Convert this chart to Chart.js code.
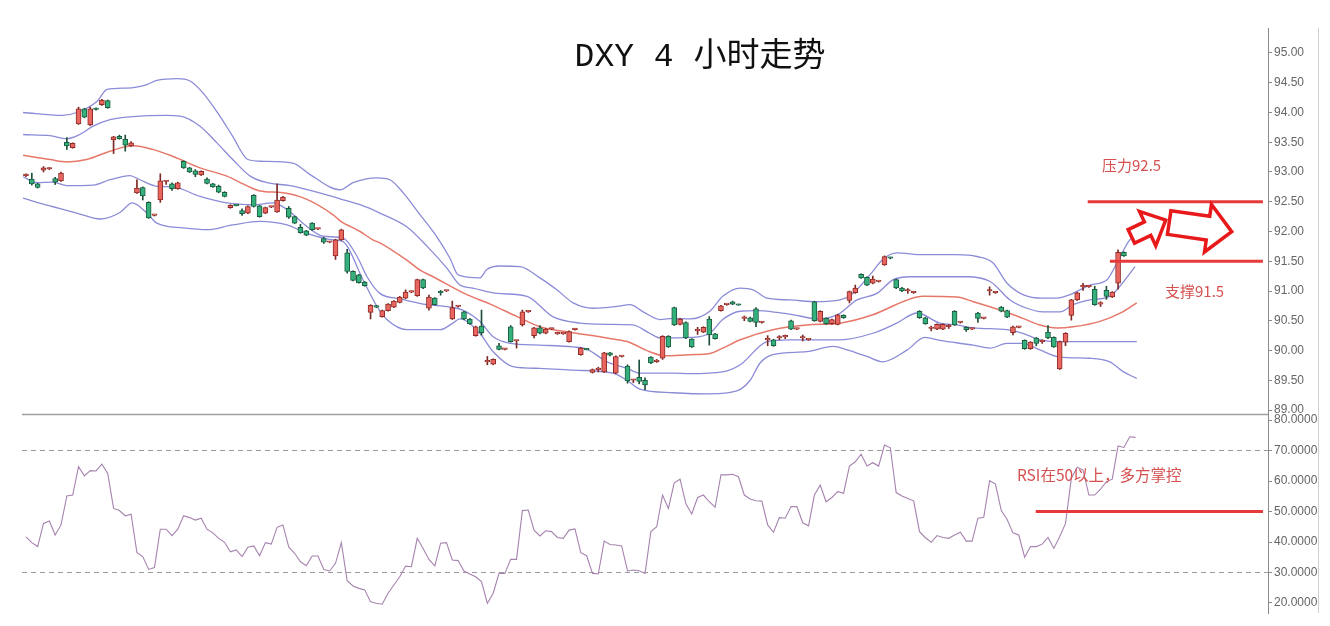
<!DOCTYPE html>
<html><head><meta charset="utf-8">
<script src="https://cdn.jsdelivr.net/npm/chart.js@4.4.1/dist/chart.umd.min.js"></script>
<style>
html,body{margin:0;padding:0;background:#fff;}
#wrap{position:relative;width:1330px;height:626px;overflow:hidden;background:#fff;}
canvas{display:block;}
.t{position:absolute;white-space:nowrap;line-height:1;}
#title{left:450px;width:500px;top:41px;text-align:center;font-family:'Liberation Mono','Noto Sans CJK SC',monospace;font-size:33px;color:#111;}
.ann{font-family:'Noto Sans CJK SC','Noto Sans',sans-serif;font-size:15px;color:#d65050;}
</style></head>
<body><div id="wrap">
<canvas id="c" width="1330" height="626"></canvas>
<div class="t" id="title">DXY 4 小时走势</div>
<div class="t ann" style="left:1102px;top:157px;">压力92.5</div>
<div class="t ann" style="left:1165px;top:283px;">支撑91.5</div>
<div class="t ann" style="left:1017px;top:467px;font-size:15.5px;">RSI在50以上，多方掌控</div>
</div>
<script>
// ---- candle data (index 0..188) ----
const open = [92.94,92.88,92.80,93.03,93.05,92.89,92.85,93.50,93.41,93.81,
94.06,93.79,94.06,94.13,94.20,93.54,93.60,93.55,93.44,92.65,
92.74,92.49,92.27,92.53,92.84,92.80,92.72,93.18,93.07,93.02,
92.95,92.88,92.80,92.76,92.66,92.40,92.44,92.35,92.31,92.61,
92.43,92.31,92.41,92.33,92.52,92.39,92.25,92.07,92.01,92.14,
92.04,91.88,91.82,91.59,91.86,91.64,91.33,91.27,91.15,90.64,
90.74,90.57,90.67,90.73,90.81,90.88,90.98,90.92,91.19,90.71,
90.88,90.98,91.00,90.53,90.74,90.65,90.53,90.25,90.41,89.81,
89.77,90.08,90.02,90.40,90.16,90.43,90.65,90.25,90.38,90.29,
90.36,90.28,90.28,90.15,90.35,89.93,90.02,89.63,89.68,89.64,
89.96,89.62,89.90,89.74,89.50,89.55,89.50,89.89,89.81,89.87,
90.24,90.72,90.44,90.47,90.19,90.33,90.31,90.53,90.28,90.67,
90.77,90.82,90.77,90.54,90.55,90.70,90.47,90.18,90.18,90.21,
90.23,90.50,90.36,90.21,90.18,90.82,90.49,90.54,90.45,90.44,
90.59,90.84,90.97,91.28,91.23,91.13,91.16,91.44,91.56,91.19,
91.05,91.00,90.97,90.66,90.55,90.37,90.36,90.36,90.40,90.66,
90.47,90.39,90.36,90.63,90.54,91.00,90.97,90.73,90.67,90.30,
90.39,90.17,90.03,90.21,90.15,90.31,90.22,89.69,90.14,90.59,
90.85,91.07,91.07,91.03,90.78,91.01,90.90,91.13,91.65];
const high = [92.97,92.98,92.81,93.09,93.07,92.91,93.00,93.58,93.49,94.09,
94.07,94.09,94.08,94.22,94.21,93.60,93.62,93.62,93.51,92.87,
92.75,92.50,92.28,92.97,92.85,92.82,92.83,93.19,93.08,93.04,
93.02,92.90,92.81,92.78,92.67,92.45,92.45,92.38,92.43,92.62,
92.44,92.41,92.42,92.80,92.59,92.42,92.26,92.12,92.02,92.15,
92.05,91.90,91.83,91.87,92.04,91.70,91.34,91.28,91.16,90.77,
90.76,90.68,90.79,90.84,90.91,91.02,91.00,91.20,91.20,90.93,
90.89,91.01,91.01,90.83,90.75,90.66,90.54,90.41,90.68,89.90,
89.86,90.12,90.03,90.42,90.17,90.68,90.66,90.39,90.42,90.37,
90.37,90.31,90.29,90.33,90.37,90.05,90.03,89.69,89.72,89.97,
89.97,89.91,89.91,89.76,89.51,89.84,89.54,89.90,89.85,90.25,
90.25,90.73,90.54,90.48,90.20,90.39,90.40,90.57,90.29,90.76,
90.78,90.83,90.78,90.58,90.56,90.72,90.48,90.25,90.19,90.25,
90.26,90.51,90.37,90.26,90.19,90.83,90.67,90.55,90.53,90.61,
90.60,91.00,91.10,91.29,91.24,91.25,91.17,91.59,91.57,91.20,
91.06,91.04,90.98,90.67,90.56,90.41,90.45,90.45,90.44,90.67,
90.48,90.40,90.37,90.64,90.55,91.07,90.98,90.74,90.68,90.41,
90.40,90.18,90.15,90.22,90.18,90.42,90.23,90.16,90.30,90.86,
90.98,91.13,91.08,91.08,90.82,91.08,90.99,91.69,91.66];
const low = [92.92,92.78,92.73,93.00,93.04,92.79,92.84,93.38,93.40,93.80,
93.91,93.78,94.04,94.12,94.07,93.31,93.55,93.35,93.43,92.64,
92.53,92.22,92.26,92.49,92.79,92.69,92.71,93.06,92.99,92.92,
92.94,92.80,92.74,92.65,92.58,92.39,92.43,92.27,92.30,92.41,
92.24,92.30,92.40,92.32,92.51,92.22,92.13,91.97,91.93,92.02,
92.03,91.80,91.81,91.53,91.85,91.30,91.17,91.13,91.08,90.53,
90.72,90.56,90.66,90.72,90.80,90.87,90.97,90.91,91.04,90.68,
90.76,90.93,90.99,90.52,90.73,90.52,90.44,90.24,90.26,89.76,
89.76,90.01,90.01,90.14,90.04,90.41,90.64,90.21,90.28,90.28,
90.35,90.27,90.27,90.14,90.34,89.92,90.01,89.62,89.64,89.63,
89.91,89.61,89.89,89.45,89.46,89.44,89.34,89.78,89.80,89.85,
90.05,90.42,90.43,90.20,90.05,90.27,90.30,90.09,90.19,90.66,
90.76,90.77,90.76,90.50,90.48,90.40,90.46,90.08,90.07,90.18,
90.20,90.35,90.35,90.16,90.17,90.49,90.48,90.44,90.44,90.43,
90.54,90.80,90.96,91.21,91.09,91.12,91.15,91.43,91.54,91.04,
90.99,90.96,90.96,90.54,90.44,90.33,90.35,90.35,90.37,90.42,
90.46,90.32,90.35,90.47,90.53,90.93,90.96,90.65,90.55,90.26,
90.38,90.02,90.02,90.08,90.12,90.20,90.05,89.68,90.08,90.51,
90.84,91.01,91.06,90.76,90.74,90.86,90.89,91.03,91.58];
const close = [92.95,92.80,92.74,93.07,93.06,92.83,92.98,93.44,93.48,94.06,
93.92,94.06,94.05,94.21,94.08,93.59,93.56,93.45,93.49,92.73,
92.60,92.23,92.27,92.85,92.84,92.72,92.82,93.07,93.00,92.96,
93.01,92.81,92.75,92.66,92.59,92.44,92.43,92.30,92.42,92.42,
92.25,92.40,92.41,92.53,92.58,92.24,92.14,91.98,91.94,92.03,
92.04,91.82,91.82,91.86,92.03,91.33,91.18,91.14,91.09,90.76,
90.73,90.67,90.78,90.83,90.90,90.98,90.98,91.19,91.05,90.90,
90.77,90.97,91.00,90.72,90.74,90.53,90.45,90.40,90.30,89.81,
89.85,90.02,90.02,90.15,90.16,90.65,90.65,90.38,90.29,90.36,
90.36,90.28,90.28,90.32,90.35,90.04,90.01,89.68,89.68,89.96,
89.92,89.90,89.90,89.49,89.50,89.48,89.42,89.79,89.84,90.24,
90.06,90.43,90.53,90.21,90.06,90.33,90.39,90.26,90.20,90.75,
90.77,90.78,90.76,90.54,90.49,90.47,90.47,90.18,90.08,90.23,
90.23,90.36,90.36,90.21,90.18,90.50,90.66,90.45,90.52,90.60,
90.55,90.99,91.05,91.22,91.10,91.20,91.16,91.58,91.55,91.05,
91.00,91.00,90.97,90.55,90.45,90.37,90.44,90.44,90.40,90.43,
90.47,90.35,90.36,90.54,90.54,91.00,90.97,90.66,90.56,90.40,
90.39,90.03,90.14,90.12,90.15,90.21,90.06,90.15,90.29,90.85,
90.97,91.07,91.07,90.77,90.78,90.91,90.98,91.65,91.59];

// ---- Bollinger bands, read as [bar index, price] ----
const bandUpperOuter = [[-0.5,94.00],[6.2,93.95],[8.7,94.00],[12.2,94.19],[13.9,94.39],[17.3,94.41],[20.7,94.47],[22.4,94.54],[25.9,94.57],[28.1,94.53],[30.3,94.33],[33.2,93.94],[35.4,93.60],[38.0,93.21],[40.6,93.18],[45.7,93.15],[48.6,92.96],[53.8,92.70],[56.0,92.82],[60.1,92.90],[62.3,92.87],[64.6,92.65],[67.5,92.28],[70.3,91.92],[72.6,91.55],[74.0,91.27],[77.7,91.22],[78.9,91.36],[81.2,91.42],[84.6,91.41],[88.0,91.22],[90.9,91.02],[93.7,90.80],[97.1,90.71],[101.2,90.74],[103.4,90.77],[105.7,90.65],[108.6,90.52],[110.8,90.54],[113.7,90.53],[117.1,90.66],[119.3,90.91],[122.3,91.05],[124.5,91.02],[126.9,90.88],[130.8,90.85],[135.4,90.82],[139.4,90.85],[141.6,90.96],[144.5,91.27],[146.7,91.53],[149.1,91.64],[153.6,91.61],[159.4,91.61],[162.8,91.58],[165.6,91.47],[168.0,91.13],[170.7,90.94],[174.1,90.88],[176.5,90.88],[178.8,90.94],[182.2,91.10],[185.1,91.19],[186.8,91.47],[189.0,91.86],[190.2,91.93]];
const bandUpperInner = [[-0.5,93.63],[4.1,93.61],[7.0,93.56],[9.2,93.63],[11.5,93.77],[14.4,93.88],[18.3,93.93],[24.1,93.95],[26.4,93.94],[29.8,93.77],[32.7,93.49],[35.4,93.21],[38.4,92.93],[41.3,92.82],[45.2,92.77],[49.8,92.66],[53.8,92.55],[57.2,92.45],[60.6,92.31],[65.2,92.08],[68.7,91.75],[72.1,91.38],[74.3,91.10],[76.5,91.05],[80.7,90.96],[85.8,90.91],[90.2,90.57],[94.9,90.46],[99.5,90.44],[103.9,90.43],[106.8,90.29],[108.6,90.21],[113.7,90.22],[117.1,90.29],[119.3,90.52],[122.3,90.66],[125.2,90.67],[128.6,90.64],[132.5,90.58],[135.4,90.53],[138.9,90.60],[142.3,90.85],[145.7,90.96],[148.5,91.19],[151.4,91.24],[156.5,91.24],[161.1,91.24],[165.1,91.16],[168.5,90.85],[171.4,90.71],[174.1,90.65],[177.1,90.65],[179.3,90.77],[182.2,90.85],[185.6,90.91],[187.3,91.08],[189.9,91.41]];
const bandMiddle = [[-0.5,93.28],[4.1,93.21],[7.0,93.17],[10.4,93.21],[14.4,93.35],[18.3,93.44],[21.7,93.38],[25.2,93.26],[29.8,93.07],[34.4,92.93],[37.8,92.77],[40.1,92.68],[44.0,92.65],[48.1,92.54],[52.6,92.28],[53.8,92.18],[57.2,92.00],[59.4,91.86],[60.6,91.81],[65.2,91.52],[67.5,91.35],[69.7,91.24],[75.5,90.94],[79.5,90.78],[84.1,90.57],[88.0,90.40],[93.7,90.30],[99.5,90.21],[102.9,90.15],[106.8,89.98],[109.4,89.91],[113.7,89.93],[117.1,89.95],[119.3,90.04],[122.3,90.18],[127.9,90.35],[133.7,90.43],[139.4,90.46],[145.0,90.60],[150.9,90.85],[153.6,90.91],[159.4,90.90],[162.2,90.82],[166.8,90.68],[170.7,90.54],[173.6,90.43],[176.5,90.38],[179.3,90.40],[183.9,90.49],[187.8,90.65],[190.2,90.80]];
const bandLowerInner = [[-0.5,92.92],[1.9,92.82],[4.6,92.83],[7.0,92.77],[11.5,92.78],[14.4,92.87],[17.8,92.94],[19.5,92.87],[22.4,92.76],[25.2,92.75],[29.8,92.59],[34.4,92.48],[38.9,92.45],[42.3,92.48],[44.7,92.37],[47.9,92.10],[50.9,91.92],[54.3,91.89],[56.7,91.58],[58.4,91.24],[60.6,90.96],[64.0,90.87],[68.0,90.78],[72.6,90.73],[74.8,90.68],[77.7,90.49],[80.0,90.23],[82.9,90.12],[88.0,90.09],[93.7,90.06],[96.1,90.02],[99.5,89.81],[102.9,89.70],[105.1,89.62],[110.8,89.62],[113.7,89.61],[119.3,89.64],[122.3,89.76],[126.9,90.15],[130.8,90.18],[139.4,90.18],[145.0,90.29],[149.1,90.46],[152.6,90.63],[156.5,90.46],[159.4,90.43],[162.2,90.38],[168.0,90.35],[170.7,90.29],[173.6,90.18],[176.5,90.15],[190.2,90.15]];
const bandLowerOuter = [[-0.5,92.56],[4.1,92.43],[8.7,92.31],[12.7,92.21],[16.1,92.32],[18.2,92.48],[20.7,92.31],[22.4,92.14],[26.9,92.06],[31.0,92.03],[35.4,92.11],[40.1,92.17],[44.7,92.11],[48.1,91.97],[52.6,91.86],[54.3,91.83],[57.7,91.19],[60.1,90.74],[61.8,90.52],[65.2,90.35],[70.9,90.35],[73.1,90.46],[74.3,90.53],[77.7,90.29],[80.0,89.98],[83.4,89.73],[88.0,89.70],[93.7,89.67],[100.5,89.62],[102.9,89.50],[105.1,89.35],[110.8,89.29],[117.1,89.27],[121.7,89.32],[124.0,89.50],[125.7,89.79],[127.9,89.93],[133.7,89.98],[138.2,90.07],[140.6,90.01],[144.0,89.90],[146.7,89.81],[150.9,90.01],[153.9,90.22],[156.5,90.17],[162.2,90.09],[165.1,90.04],[168.0,90.12],[170.7,90.12],[173.6,90.01],[177.0,89.89],[182.2,89.87],[185.6,89.81],[187.8,89.65],[190.2,89.53]];

// ---- RSI per bar index (0..190) ----
const rsi = [41.7,39.8,38.5,46.1,46.9,42.3,45.6,55.1,55.4,64.7,
61.7,63.4,63.3,65.5,62.5,51.0,50.3,48.6,49.1,36.5,
35.2,31.0,31.6,44.2,44.2,42.1,44.2,48.6,48.0,47.2,
47.8,44.2,43.0,41.2,39.9,36.8,37.4,35.2,38.3,38.7,
35.5,39.8,39.3,44.8,45.6,38.3,36.3,33.5,32.2,35.4,
35.4,31.0,30.5,33.0,39.8,27.3,25.6,24.8,24.3,20.4,
19.9,19.6,23.2,25.9,28.6,32.1,31.9,41.2,37.9,34.3,
32.2,39.6,39.8,34.1,33.9,30.5,29.5,28.6,27.0,19.9,
23.2,29.7,29.7,34.3,34.3,50.3,50.5,43.9,42.0,43.7,
43.4,41.5,41.2,43.9,44.3,36.5,35.5,29.7,29.5,40.3,
39.2,39.0,38.7,30.5,30.8,30.6,29.7,43.4,45.0,55.4,
51.0,59.4,60.6,52.5,49.2,54.6,55.4,53.2,51.4,62.0,
62.0,62.2,61.4,55.4,54.1,53.5,53.4,45.6,43.2,48.0,
47.8,51.6,51.6,46.3,45.3,55.4,58.7,53.2,54.6,56.5,
56.0,64.9,66.3,68.8,64.9,66.0,64.9,71.8,70.9,56.2,
55.1,54.3,53.5,43.4,41.4,39.9,42.1,41.5,41.2,42.3,
43.2,40.3,40.3,47.8,48.1,60.1,59.0,50.3,47.4,43.0,
42.3,35.0,38.5,38.5,39.3,41.5,37.9,41.7,46.1,60.9,
64.5,63.6,55.4,55.4,57.3,59.8,60.6,71.5,71.0,74.5,
74.3];
const rsiLevels = [70, 30];

// ---- tick labels / axis ranges ----
const priceTicks = [89.00,89.50,90.00,90.50,91.00,91.50,92.00,92.50,93.00,93.50,94.00,94.50,95.00];
const rsiTicks = [20,30,40,50,60,70,80];
const priceRange = [88.933, 95.42];
const rsiRange = [16.72, 81.97];
const xRange = [-0.68, 212.67];

// ---- annotations: levels and the span (bar index) they cover ----
const resistance = {value: 92.5, from: 181.8, to: 211.8};
const support = {value: 91.5, from: 185.6, to: 211.8};
const rsiMark = {value: 50, from: 172.9, to: 211.8};
const arrows = [
  {tail:[189.27, 91.919], tip:[195.15, 92.193], shaft:7.5, head:19, headLen:20},
  {tail:[195.75, 92.151], tip:[206.46, 91.997], shaft:12, head:24, headLen:24}
];

const UP_FILL = '#e8665f', UP_EDGE = '#8e2b26';
const DN_FILL = '#33b07c', DN_EDGE = '#1c5c40';
const BAND = '#8b8bd8', MID = '#e6786a';

const isUp = i => close[i] >= open[i];
const pts = arr => arr.map(p => ({x: p[0], y: p[1]}));
const hline = (lv, axis) => ({type:'line', data:[{x:lv.from, y:lv.value},{x:lv.to, y:lv.value}], yAxisID:axis,
  borderColor:'#e63a3a', borderWidth:3, pointRadius:0, order:0});

const decor = {
  id:'decor',
  beforeDatasetsDraw(chart){
    const {ctx, chartArea:a, scales} = chart;
    ctx.save();
    ctx.strokeStyle = '#cfcfcf'; ctx.lineWidth = 1;
    ctx.beginPath(); ctx.moveTo(chart.width - 11.5, a.top); ctx.lineTo(chart.width - 11.5, a.bottom); ctx.stroke();
    const yb = Math.round(scales.y.bottom) + 0.5;
    ctx.strokeStyle = '#a0a0a0'; ctx.lineWidth = 1.5;
    ctx.beginPath(); ctx.moveTo(a.left, yb); ctx.lineTo(a.right, yb); ctx.stroke();
    ctx.restore();
  },
  afterDatasetsDraw(chart){
    const {ctx, scales} = chart;
    const X = scales.x, Y = scales.y;
    ctx.save();
    ctx.strokeStyle = '#e8191a'; ctx.fillStyle = '#ffffff'; ctx.lineWidth = 3.5; ctx.lineJoin = 'miter';
    arrows.forEach(ar => {
      const tx = X.getPixelForValue(ar.tail[0]), ty = Y.getPixelForValue(ar.tail[1]);
      const px = X.getPixelForValue(ar.tip[0]), py = Y.getPixelForValue(ar.tip[1]);
      const L = Math.hypot(px - tx, py - ty), ang = Math.atan2(py - ty, px - tx);
      const s = L - ar.headLen;
      const local = [[0,-ar.shaft],[s,-ar.shaft],[s,-ar.head],[L,0],[s,ar.head],[s,ar.shaft],[0,ar.shaft]];
      ctx.beginPath();
      local.forEach((p, k) => {
        const gx = tx + p[0]*Math.cos(ang) - p[1]*Math.sin(ang);
        const gy = ty + p[0]*Math.sin(ang) + p[1]*Math.cos(ang);
        k ? ctx.lineTo(gx, gy) : ctx.moveTo(gx, gy);
      });
      ctx.closePath(); ctx.fill(); ctx.stroke();
    });
    ctx.restore();
  }
};

const tickFont = {family:"'Liberation Sans', Arial, sans-serif", size:12};
const yAxisBase = {
  type:'linear', axis:'y', position:'right', stack:'pane', offset:false,
  border:{display:true, color:'#8a8a8a', width:1},
  grid:{drawOnChartArea:false, drawTicks:true, tickLength:4, tickColor:'#8a8a8a'},
  afterFit(s){ s.width = 62; }
};

new Chart(document.getElementById('c'), {
  type:'line',
  data:{datasets:[
    {type:'bar', data: open.map((o,i)=>({x:i, y:[low[i], high[i]]})), yAxisID:'y', grouped:false,
      barThickness:1, minBarLength:1, backgroundColor: open.map((o,i)=> isUp(i) ? '#7a2a26' : '#1f4f3a'), borderWidth:0, order:2},
    {type:'bar', data: open.map((o,i)=>({x:i, y:[o, close[i]]})), yAxisID:'y', grouped:false,
      barThickness:5, minBarLength:1.5, borderSkipped:false, borderWidth:1,
      backgroundColor: open.map((o,i)=> isUp(i) ? UP_FILL : DN_FILL),
      borderColor: open.map((o,i)=> isUp(i) ? UP_EDGE : DN_EDGE), order:1},
    {data: pts(bandUpperOuter), yAxisID:'y', borderColor:BAND, borderWidth:1.3, pointRadius:0, cubicInterpolationMode:'monotone', order:5},
    {data: pts(bandUpperInner), yAxisID:'y', borderColor:BAND, borderWidth:1.3, pointRadius:0, cubicInterpolationMode:'monotone', order:5},
    {data: pts(bandMiddle), yAxisID:'y', borderColor:MID, borderWidth:1.5, pointRadius:0, cubicInterpolationMode:'monotone', order:5},
    {data: pts(bandLowerInner), yAxisID:'y', borderColor:BAND, borderWidth:1.3, pointRadius:0, cubicInterpolationMode:'monotone', order:5},
    {data: pts(bandLowerOuter), yAxisID:'y', borderColor:BAND, borderWidth:1.3, pointRadius:0, cubicInterpolationMode:'monotone', order:5},
    hline(resistance, 'y'), hline(support, 'y'),
    ...rsiLevels.map(v => ({data:[{x:xRange[0], y:v},{x:xRange[1], y:v}], yAxisID:'y2', borderColor:'#9a9a9a', borderWidth:1, borderDash:[5,4], pointRadius:0, order:6})),
    {data: rsi.map((v,i)=>({x:i, y:v})), yAxisID:'y2', borderColor:'#a583ae', borderWidth:1.1, pointRadius:0, tension:0, order:4},
    hline(rsiMark, 'y2')
  ]},
  options:{
    responsive:false, animation:false, devicePixelRatio:1, events:[],
    layout:{padding:{left:22, top:28, right:0, bottom:13}},
    plugins:{legend:{display:false}, tooltip:{enabled:false}, title:{display:false}},
    scales:{
      x:{type:'linear', axis:'x', min:xRange[0], max:xRange[1], display:false, offset:false},
      y:{...yAxisBase, stackWeight:386, min:priceRange[0], max:priceRange[1],
        afterBuildTicks(s){ s.ticks = priceTicks.map(v=>({value:v})); },
        ticks:{autoSkip:false, color:'#666', font:tickFont, padding:2, callback:v=>Number(v).toFixed(2)}},
      y2:{...yAxisBase, stackWeight:199, min:rsiRange[0], max:rsiRange[1],
        afterBuildTicks(s){ s.ticks = rsiTicks.map(v=>({value:v})); },
        ticks:{autoSkip:false, color:'#666', font:tickFont, padding:2, callback:v=>Number(v).toFixed(4)}}
    }
  },
  plugins:[decor]
});
</script>
</body></html>
